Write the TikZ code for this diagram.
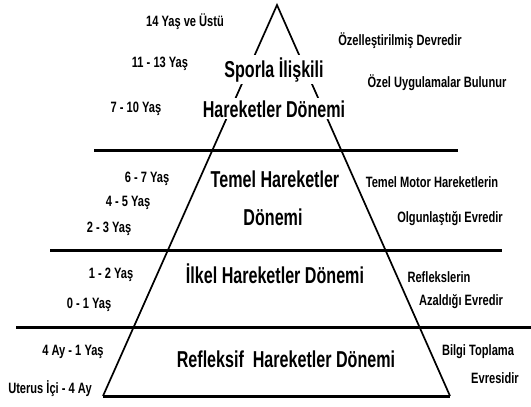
\documentclass[tikz,border=0pt]{standalone}
\usepackage{fontspec}
\newfontfamily\bigfont{Liberation Sans}[FakeStretch=0.7]
\newfontfamily\smallfont{Liberation Sans}[FakeStretch=0.74]
\usetikzlibrary{positioning}
\tikzset{
bigtxt/.style={
  font=\bigfont\bfseries\fontsize{23}{26}\selectfont,
  fill=white,
  inner sep=2pt,
  anchor=base
  },
agetxt/.style={
  font=\smallfont\bfseries\fontsize{15}{17}\selectfont,
  inner sep=0pt,
  anchor=base
  },
notetxt/.style={agetxt},
stageline/.style={line width=3pt},
sideline/.style={line width=1.7pt, line join=miter}
}

\begin{document}
\begin{tikzpicture}[x=1pt,y=-1pt]
\useasboundingbox (0,0) rectangle (531,407);

\coordinate (apex) at (277,5);
\coordinate (bl) at (103,396);
\coordinate (br) at (450,396);

\coordinate (s1a) at (94,150);
\coordinate (s1b) at (458,150);
\coordinate (s2a) at (50,250);
\coordinate (s2b) at (502,250);
\coordinate (s3a) at (16,327);
\coordinate (s3b) at (531,327);

\begin{scope}
\draw[stageline] (s1a) -- (s1b);
\draw[stageline] (s2a) -- (s2b);
\draw[stageline] (s3a) -- (s3b);
\draw[sideline] (bl) -- (apex) -- (br);
\draw[stageline] (bl) -- (br);
\end{scope}

\node[bigtxt] (sport1) at (274,77) {Sporla İlişkili};
\node[bigtxt] (sport2) at (274,117) {Hareketler Dönemi};
\node[bigtxt] (basic1) at (275,187) {Temel Hareketler};
\node[bigtxt] (basic2) at (273,225) {Dönemi};
\node[bigtxt] (rudim) at (275,283) {İlkel Hareketler Dönemi};
\node[bigtxt] (reflex) at (286,367) {Refleksif\ \ Hareketler Dönemi};

\node[agetxt] (age14) at (185,26) {14 Yaş ve Üstü};
\node[agetxt] (age11) at (160,67) {11 - 13 Yaş};
\node[agetxt] (age7) at (136,112) {7 - 10 Yaş};
\node[agetxt] (age6) at (147,182) {6 - 7 Yaş};
\node[agetxt] (age4) at (128,206) {4 - 5 Yaş};
\node[agetxt] (age2) at (109,232) {2 - 3 Yaş};
\node[agetxt] (age1) at (111,278) {1 - 2 Yaş};
\node[agetxt] (age0) at (89,308) {0 - 1 Yaş};
\node[agetxt] (agem4) at (73,355) {4 Ay - 1 Yaş};
\node[agetxt] (agem0) at (50,393) {Uterus İçi - 4 Ay};

\node[notetxt] (note1) at (400,45) {Özelleştirilmiş Devredir};
\node[notetxt] (note2) at (437,87) {Özel Uygulamalar Bulunur};
\node[notetxt] (note3) at (432,187) {Temel Motor Hareketlerin};
\node[notetxt] (note4) at (450,222) {Olgunlaştığı Evredir};
\node[notetxt] (note5) at (439,282) {Reflekslerin};
\node[notetxt] (note6) at (461,305) {Azaldığı Evredir};
\node[notetxt] (note7) at (478,355) {Bilgi Toplama};
\node[notetxt] (note8) at (495,383) {Evresidir};
\end{tikzpicture}
\end{document}
